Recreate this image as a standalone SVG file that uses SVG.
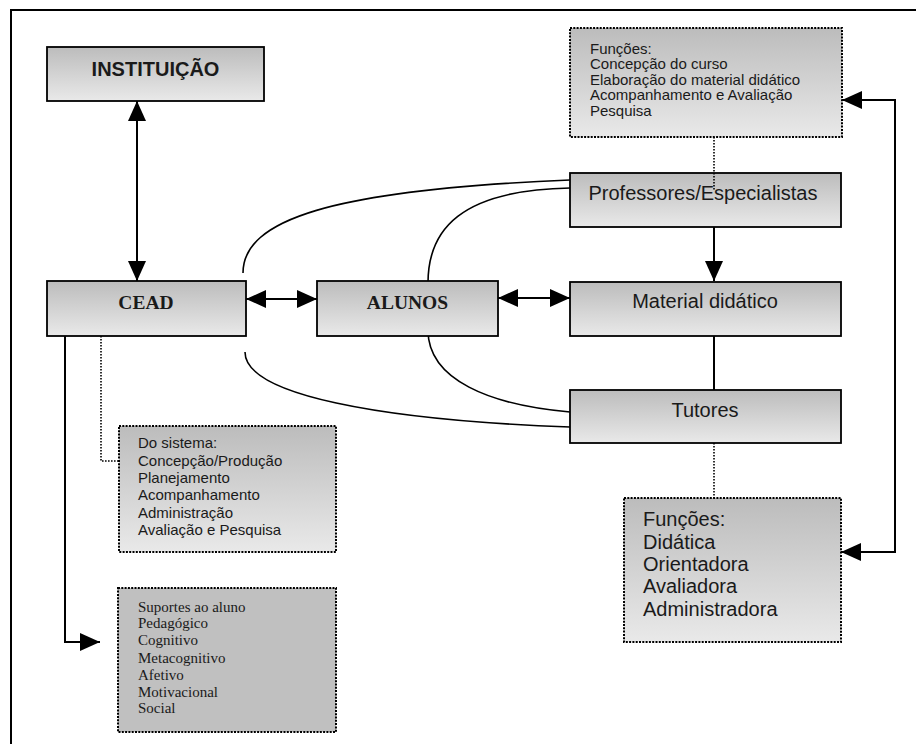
<svg xmlns="http://www.w3.org/2000/svg" width="916" height="744" viewBox="0 0 916 744">
<style>
.node{stroke:#000;stroke-width:1.8;fill:url(#g)}
.note{stroke:#000;stroke-width:2;stroke-dasharray:2 1.3;fill:url(#g)}
.note2{stroke:#000;stroke-width:2;stroke-dasharray:2 1.3;fill:#c0c0c0}
.ln{stroke:#000;stroke-width:2;fill:none}
.cv{stroke:#000;stroke-width:1.6;fill:none}
.dot{stroke:#000;stroke-width:1.6;stroke-dasharray:1.6 1.4;fill:none}
.sans{font-family:"Liberation Sans",Arial,sans-serif;fill:#1a1a1a}
.serif{font-family:"Liberation Serif","Times New Roman",serif;fill:#1a1a1a}
</style>
<defs>
<linearGradient id="g" x1="0" y1="0" x2="0" y2="1">
<stop offset="0" stop-color="#bcbcbc"/>
<stop offset="1" stop-color="#e9e9e9"/>
</linearGradient>
<marker id="ah" markerUnits="userSpaceOnUse" markerWidth="20" markerHeight="18" refX="20" refY="9" orient="auto-start-reverse">
<path d="M0,0 L20,9 L0,18 Z" fill="#000"/>
</marker>
</defs>
<rect width="916" height="744" fill="#fff"/>
<g id="frame">
<path d="M11,744 L11,10 L916,10" class="ln"/>
</g>
<g id="connectors">
<line x1="137" y1="101" x2="137" y2="281" class="ln" marker-start="url(#ah)" marker-end="url(#ah)"/>
<line x1="246" y1="299" x2="317" y2="299" class="ln" marker-start="url(#ah)" marker-end="url(#ah)"/>
<line x1="498" y1="298" x2="570" y2="298" class="ln" marker-start="url(#ah)" marker-end="url(#ah)"/>
<line x1="714" y1="227" x2="714" y2="281" class="ln" marker-end="url(#ah)"/>
<line x1="714" y1="336" x2="714" y2="390" class="ln"/>
<path d="M841,552 L895,552 L895,100 L842,100" class="ln" marker-start="url(#ah)" marker-end="url(#ah)"/>
<path d="M65,336 L65,642 L100,642" class="ln" marker-end="url(#ah)"/>
<path d="M243,273 C243,220 330,190 570,180" class="cv"/>
<path d="M428,283 C428,230 460,190 570,188" class="cv"/>
<path d="M428,330 C428,380 490,405 570,412" class="cv"/>
<path d="M245,352 C245,395 380,420 570,427" class="cv"/>
<path d="M101,336 L101,461 L119,461" class="dot"/>
<path d="M714,443 L714,498" class="dot"/>
</g>
<g id="instituicao">
<rect x="47" y="47" width="217" height="54" class="node"/>
<text x="155.5" y="76" text-anchor="middle" class="sans" font-size="20" font-weight="bold">INSTITUIÇÃO</text>
</g>
<g id="cead">
<rect x="47" y="281" width="199" height="55" class="node"/>
<text x="146" y="309" text-anchor="middle" class="serif" font-size="19.5" font-weight="bold">CEAD</text>
</g>
<g id="alunos">
<rect x="317" y="281" width="181" height="55" class="node"/>
<text x="407.5" y="309" text-anchor="middle" class="serif" font-size="19.5" font-weight="bold">ALUNOS</text>
</g>
<g id="professores">
<rect x="570" y="173" width="271" height="54" class="node"/>
<text x="703" y="200" text-anchor="middle" class="sans" font-size="20">Professores/Especialistas</text>
</g>
<g id="funcoes-prof">
<rect x="570" y="28" width="272" height="109" class="note"/>
<g class="sans" font-size="15">
<text x="590" y="53.5">Funções:</text>
<text x="590" y="69">Concepção do curso</text>
<text x="590" y="84.5">Elaboração do material didático</text>
<text x="590" y="100">Acompanhamento e Avaliação</text>
<text x="590" y="115.5">Pesquisa</text>
</g>
</g>
<path d="M714,137 L714,190" class="dot"/>
<g id="material">
<rect x="570" y="282" width="271" height="54" class="node"/>
<text x="705" y="308" text-anchor="middle" class="sans" font-size="20">Material didático</text>
</g>
<g id="tutores">
<rect x="570" y="390" width="271" height="53" class="node"/>
<text x="705" y="417" text-anchor="middle" class="sans" font-size="20">Tutores</text>
</g>
<g id="funcoes-tut">
<rect x="624" y="498" width="217" height="144" class="note"/>
<g class="sans" font-size="20">
<text x="643" y="526">Funções:</text>
<text x="643" y="548.5">Didática</text>
<text x="643" y="571">Orientadora</text>
<text x="643" y="593">Avaliadora</text>
<text x="643" y="616">Administradora</text>
</g>
</g>
<g id="do-sistema">
<rect x="119" y="426" width="217" height="126" class="note"/>
<g class="sans" font-size="15">
<text x="138" y="448">Do sistema:</text>
<text x="138" y="465.5">Concepção/Produção</text>
<text x="138" y="482.5">Planejamento</text>
<text x="138" y="500">Acompanhamento</text>
<text x="138" y="517.5">Administração</text>
<text x="138" y="535">Avaliação e Pesquisa</text>
</g>
</g>
<g id="suportes">
<rect x="118" y="588" width="218" height="144" class="note2"/>
<g class="serif" font-size="15">
<text x="138" y="611.5">Suportes ao aluno</text>
<text x="138" y="628">Pedagógico</text>
<text x="138" y="645">Cognitivo</text>
<text x="138" y="662.5">Metacognitivo</text>
<text x="138" y="680">Afetivo</text>
<text x="138" y="696.5">Motivacional</text>
<text x="138" y="713">Social</text>
</g>
</g>
</svg>
